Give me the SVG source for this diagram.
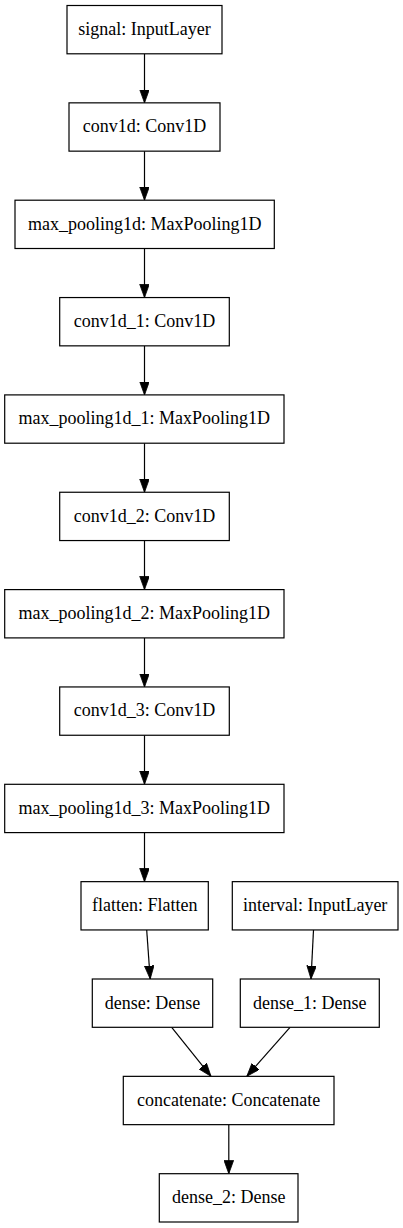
<svg xmlns="http://www.w3.org/2000/svg" width="403" height="1228" viewBox="0 0 403 1228">
<defs>
<style>
.box{fill:#fff;stroke:#000;stroke-width:1.2}
.lbl{font-family:"Liberation Serif","Times New Roman",serif;font-size:18px;fill:#000;text-anchor:middle}
.edge{stroke:#000;stroke-width:1.2;fill:none;marker-end:url(#arr)}
</style>
<marker id="arr" markerUnits="userSpaceOnUse" markerWidth="14" markerHeight="10" refX="13.3" refY="4.8" orient="auto">
<path d="M0,0 L13.3,4.8 L0,9.6 z" fill="#000" stroke="#000" stroke-width="0.8"/>
</marker>
</defs>
<rect width="403" height="1228" fill="#fff"/>
<g id="edges">
<line class="edge" x1="144.5" y1="53.8" x2="144.5" y2="102.85"/>
<line class="edge" x1="144.5" y1="151.15" x2="144.5" y2="200.2"/>
<line class="edge" x1="144.5" y1="248.5" x2="144.5" y2="297.55"/>
<line class="edge" x1="144.5" y1="345.85" x2="144.5" y2="394.9"/>
<line class="edge" x1="144.5" y1="443.2" x2="144.5" y2="492.25"/>
<line class="edge" x1="144.5" y1="540.55" x2="144.5" y2="589.6"/>
<line class="edge" x1="144.5" y1="637.9" x2="144.5" y2="686.95"/>
<line class="edge" x1="144.5" y1="735.25" x2="144.5" y2="784.3"/>
<line class="edge" x1="144.5" y1="832.6" x2="144.5" y2="881.65"/>
<line class="edge" x1="146.7" y1="929.95" x2="150.2" y2="979"/>
<line class="edge" x1="313.5" y1="929.95" x2="311" y2="979"/>
<line class="edge" x1="171.7" y1="1027.3" x2="211" y2="1076.35"/>
<line class="edge" x1="290" y1="1027.3" x2="246.8" y2="1076.35"/>
<line class="edge" x1="228.8" y1="1124.65" x2="228.8" y2="1173.7"/>
</g>
<g id="signal"><rect class="box" x="67" y="5.5" width="155" height="48.3"/><text class="lbl" x="144.5" y="35">signal: InputLayer</text></g>
<g id="conv1d"><rect class="box" x="69" y="102.85" width="151" height="48.3"/><text class="lbl" x="144.5" y="132.35">conv1d: Conv1D</text></g>
<g id="max_pooling1d"><rect class="box" x="15" y="200.2" width="259.3" height="48.3"/><text class="lbl" x="144.65" y="229.7">max_pooling1d: MaxPooling1D</text></g>
<g id="conv1d_1"><rect class="box" x="59.7" y="297.55" width="169.6" height="48.3"/><text class="lbl" x="144.5" y="327.05">conv1d_1: Conv1D</text></g>
<g id="max_pooling1d_1"><rect class="box" x="4.7" y="394.9" width="279.3" height="48.3"/><text class="lbl" x="144.35" y="424.4">max_pooling1d_1: MaxPooling1D</text></g>
<g id="conv1d_2"><rect class="box" x="59.7" y="492.25" width="169.6" height="48.3"/><text class="lbl" x="144.5" y="521.75">conv1d_2: Conv1D</text></g>
<g id="max_pooling1d_2"><rect class="box" x="4.7" y="589.6" width="279.3" height="48.3"/><text class="lbl" x="144.35" y="619.1">max_pooling1d_2: MaxPooling1D</text></g>
<g id="conv1d_3"><rect class="box" x="59.7" y="686.95" width="169.6" height="48.3"/><text class="lbl" x="144.5" y="716.45">conv1d_3: Conv1D</text></g>
<g id="max_pooling1d_3"><rect class="box" x="4.7" y="784.3" width="279.3" height="48.3"/><text class="lbl" x="144.35" y="813.8">max_pooling1d_3: MaxPooling1D</text></g>
<g id="flatten"><rect class="box" x="81" y="881.65" width="127.3" height="48.3"/><text class="lbl" x="144.65" y="911.15">flatten: Flatten</text></g>
<g id="interval"><rect class="box" x="232.3" y="881.65" width="165.7" height="48.3"/><text class="lbl" x="315.15" y="911.15">interval: InputLayer</text></g>
<g id="dense"><rect class="box" x="92.3" y="979" width="120.4" height="48.3"/><text class="lbl" x="152.5" y="1008.5">dense: Dense</text></g>
<g id="dense_1"><rect class="box" x="240.3" y="979" width="139" height="48.3"/><text class="lbl" x="309.8" y="1008.5">dense_1: Dense</text></g>
<g id="concatenate"><rect class="box" x="123.3" y="1076.35" width="210.7" height="48.3"/><text class="lbl" x="228.65" y="1105.85">concatenate: Concatenate</text></g>
<g id="dense_2"><rect class="box" x="159.3" y="1173.7" width="138.7" height="48.3"/><text class="lbl" x="228.65" y="1203.2">dense_2: Dense</text></g>
</svg>
